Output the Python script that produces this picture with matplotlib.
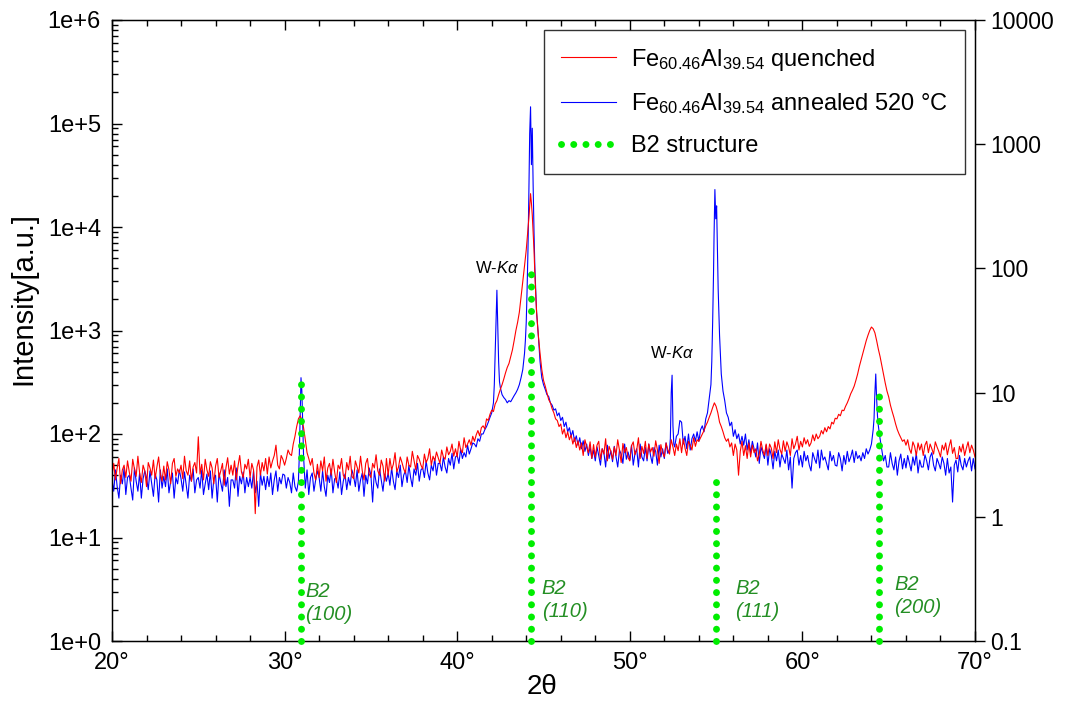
import math

import matplotlib

matplotlib.use("Agg")
import matplotlib.pyplot as plt
from matplotlib.ticker import FixedLocator, FuncFormatter, LogLocator, MultipleLocator, NullFormatter

plt.rcParams["font.family"] = ["Liberation Sans", "DejaVu Sans"]
plt.rcParams["mathtext.fontset"] = "custom"
plt.rcParams["mathtext.rm"] = "Liberation Sans"
plt.rcParams["mathtext.it"] = "Liberation Sans:italic"
plt.rcParams["mathtext.default"] = "regular"

STEP = 0.1  # diffractometer step in the flat background runs (deg 2theta)


def scan(start, counts, step=STEP):
    """(2theta, counts) pairs for an equally stepped run starting at `start`."""
    return [(round(start + i * step, 2), c) for i, c in enumerate(counts)]


# ---- Fe60.46Al39.54 quenched -------------------------------------------------
q_bg_20 = [
    40, 52, 36, 47, 58, 33, 45, 50, 38, 55,
    43, 35, 57, 46, 39, 61, 42, 34, 50, 44,
    31, 53, 47, 40, 56, 37, 48, 60, 41, 35,
    49, 36, 54, 45, 33, 52, 58, 39, 46, 42,
    50, 37, 61, 44, 40, 55, 35, 48, 53, 42,
    94, 41, 51, 36, 57, 45, 39, 54, 47, 33,
    49, 58, 38, 44, 52, 32, 47, 59, 41, 50,
    40, 55, 36, 49, 62, 43, 38, 51, 46, 57,
    38, 52, 45, 17, 48, 56, 40, 53, 44, 58,
    41, 60, 47, 55, 62, 78, 50, 46, 62, 57,
    50, 58, 70, 64, 62,
]
q_100 = [(30.5, 80), (30.6, 95), (30.7, 118), (30.8, 140), (30.9, 150), (31.0, 138),
         (31.1, 115), (31.2, 88), (31.3, 66), (31.4, 58), (31.5, 50)]
q_bg_31 = [
    58, 42, 36, 51,
    38, 55, 44, 60, 35, 47, 52, 40, 57, 43,
    34, 50, 46, 58, 40, 37, 53, 45, 61, 39,
    37, 55, 48, 42, 61, 44, 36, 52, 58, 41,
    38, 52, 47, 63, 44, 40, 56, 49, 35, 58,
    40, 58, 45, 51, 66, 43, 48, 60, 53, 46,
    42, 60, 50, 48, 68, 55, 45, 62, 57, 50,
    46, 64, 53, 58, 72, 50, 61, 55, 67, 59,
    52, 70, 60, 57, 75, 63, 68, 80, 61, 72,
    60, 85, 70, 66, 92, 74, 80, 88, 78, 95,
    85,
]
q_110 = [
    (41.1, 98), (41.2, 108), (41.3, 96), (41.4, 115), (41.5, 120), (41.6, 112), (41.7, 140),
    (41.8, 135), (41.9, 155), (42.0, 170), (42.1, 165), (42.2, 195), (42.3, 210), (42.4, 240),
    (42.5, 270), (42.6, 300), (42.7, 340), (42.8, 390), (42.9, 440), (43.0, 480), (43.1, 560),
    (43.2, 650), (43.3, 800), (43.4, 1000), (43.5, 1200), (43.6, 1500), (43.7, 2100), (43.8, 3000),
    (43.9, 4200), (44.0, 6000), (44.1, 9500), (44.15, 12000), (44.2, 16000), (44.25, 21000),
    (44.3, 17000), (44.35, 13000), (44.4, 9000), (44.45, 6000), (44.5, 3500), (44.55, 2200),
    (44.6, 1500), (44.7, 900), (44.8, 600), (44.9, 420), (45.0, 330), (45.1, 290), (45.2, 250),
    (45.3, 215), (45.4, 200), (45.5, 175), (45.6, 160), (45.7, 140), (45.8, 135), (45.9, 118),
    (46.0, 125), (46.1, 100), (46.2, 112), (46.3, 92), (46.4, 105), (46.5, 88), (46.6, 98),
    (46.7, 80), (46.8, 92), (46.9, 74), (47.0, 86),
]
q_bg_47 = [
    70, 82, 62, 88, 75, 66, 84, 58, 79,
    60, 78, 85, 57, 72, 64, 90, 55, 76, 68,
    57, 75, 62, 88, 70, 53, 81, 66, 74, 59,
    55, 77, 84, 63, 70, 92, 58, 76, 65, 85,
    58, 80, 67, 74, 61, 86, 70, 52, 79, 66,
    60, 82, 71, 64, 88, 75, 62, 80, 69, 90,
    66, 90, 73, 62, 85, 78, 70, 92, 76, 88,
    85,
]
q_111 = [
    (54.1, 92), (54.2, 100), (54.3, 108), (54.4, 120), (54.5, 130), (54.6, 145), (54.7, 160),
    (54.8, 180), (54.9, 200), (55.0, 185), (55.1, 160), (55.2, 130), (55.3, 118), (55.4, 105),
    (55.5, 92), (55.6, 85), (55.7, 90), (55.8, 75), (55.9, 82), (56.0, 62),
]
q_bg_56 = [
    80, 70, 40, 68, 85, 62, 77, 58, 82,
    60, 78, 66, 72, 55, 64, 85, 70, 62, 80,
    62, 80, 73, 58, 84, 66, 88, 71, 64, 86,
    68, 84, 75, 62, 90, 72, 80, 95, 70, 85,
    75, 92, 80, 88, 76, 82, 98, 86, 100, 90,
]
q_200 = [
    (61.0, 95), (61.1, 108), (61.2, 100), (61.3, 115), (61.4, 105), (61.5, 118), (61.6, 112),
    (61.7, 130), (61.8, 125), (61.9, 142), (62.0, 140), (62.1, 155), (62.2, 150), (62.3, 170),
    (62.4, 168), (62.5, 185), (62.6, 200), (62.7, 220), (62.8, 245), (62.9, 265), (63.0, 290),
    (63.1, 330), (63.2, 380), (63.3, 450), (63.4, 520), (63.5, 600), (63.6, 700), (63.7, 800),
    (63.8, 900), (63.9, 1000), (64.0, 1080), (64.1, 1040), (64.2, 950), (64.3, 800), (64.4, 660),
    (64.5, 560), (64.6, 460), (64.7, 380), (64.8, 310), (64.9, 260), (65.0, 228), (65.1, 190),
    (65.2, 165), (65.3, 145), (65.4, 125), (65.5, 110), (65.6, 100), (65.7, 92), (65.8, 85),
    (65.9, 88), (66.0, 78),
]
q_bg_66 = [
    88, 72, 65, 84, 76, 62, 82, 70, 80,
    62, 78, 85, 66, 80, 72, 64, 84, 75, 68,
    60, 78, 70, 82, 63, 76, 88, 65, 74, 58,
    58, 76, 67, 80, 62, 73, 84, 66, 78, 70,
    60,
]

# ---- Fe60.46Al39.54 annealed 520 C ----------------------------------------
a_bg_20 = [
    36, 28, 45, 31, 24, 40, 33, 47, 26, 38,
    40, 30, 23, 47, 35, 28, 42, 24, 37, 44,
    38, 29, 44, 33, 25, 41, 36, 22, 45, 30,
    39, 31, 46, 27, 35, 42, 24, 38, 33, 45,
    37, 28, 43, 32, 24, 40, 35, 46, 27, 36,
    38, 30, 45, 26, 33, 41, 29, 44, 24, 37,
    40, 22, 42, 34, 28, 45, 31, 38, 20, 36,
    36, 30, 47, 25, 39, 33, 43, 27, 38, 31,
    38, 30, 44, 27, 35, 20, 42, 32, 39, 29,
    39, 31, 42, 26, 36, 44, 28, 38, 33, 41,
    40, 30, 38, 34, 27, 42, 31, 28, 35,
]
a_100 = [(30.85, 60), (30.9, 150), (30.95, 350), (31.0, 260), (31.05, 120), (31.1, 60), (31.15, 42)]
a_bg_31 = [
    30, 45, 26, 38, 42, 28, 36, 44,
    38, 28, 44, 31, 25, 40, 34, 46, 27, 37,
    37, 30, 43, 26, 35, 41, 29, 38, 32, 45,
    39, 31, 45, 28, 36, 42, 25, 40, 33, 47,
    40, 22, 44, 34, 30, 46, 36, 28, 41, 35,
    42, 32, 47, 35, 29, 44, 38, 50, 31, 40,
    44, 34, 50, 38, 31, 46, 40, 52, 35, 45,
    47, 38, 55, 42, 36, 50, 44, 58, 40, 52,
    52, 44, 60, 48, 42, 58, 50, 65, 46, 60,
    62, 52, 72, 58, 66, 60, 78, 64, 72, 82,
    80, 75, 90, 85, 100,
]
a_110 = [
    (41.5, 100), (41.6, 110), (41.7, 118), (41.8, 130), (41.9, 145), (42.0, 160), (42.1, 200),
    (42.15, 300), (42.2, 600), (42.25, 1300), (42.3, 2450), (42.35, 1100), (42.4, 500), (42.45, 320),
    (42.5, 280), (42.6, 240), (42.7, 225), (42.8, 215), (42.9, 200), (43.0, 210), (43.1, 205),
    (43.2, 220), (43.3, 235), (43.4, 250), (43.5, 270), (43.6, 300), (43.7, 350), (43.8, 420),
    (43.9, 600), (43.95, 800), (44.0, 1200), (44.05, 2500), (44.1, 6000), (44.15, 20000),
    (44.2, 80000), (44.25, 145000), (44.3, 40000), (44.35, 90000), (44.4, 25000), (44.45, 9000),
    (44.5, 4000), (44.55, 2400), (44.6, 1500), (44.7, 900), (44.8, 500), (44.9, 350), (45.0, 300),
    (45.1, 270), (45.2, 240), (45.3, 230), (45.4, 200), (45.5, 190), (45.6, 170), (45.7, 175),
    (45.8, 150), (45.9, 160), (46.0, 135), (46.1, 145), (46.2, 118), (46.3, 130), (46.4, 105),
    (46.5, 115), (46.6, 95), (46.7, 108), (46.8, 85), (46.9, 96), (47.0, 78), (47.1, 92),
    (47.2, 72), (47.3, 86), (47.4, 68),
]
a_bg_47 = [
    80, 62, 75, 58, 70,
    55, 75, 62, 50, 72, 66, 48, 78, 58, 69,
    54, 76, 60, 48, 70, 64, 52, 80, 57, 67,
    56, 78, 50, 65, 72, 48, 80, 60, 55, 74,
    55, 80, 62, 52, 74, 68, 50, 78, 60, 72,
    58, 82, 65, 70,
]
a_wka_52 = [(52.35, 90), (52.4, 250), (52.45, 370), (52.5, 120), (52.55, 80)]
a_bg_52 = [
    75, 95, 100, 135,
    130, 80, 95, 72, 100, 70, 90, 100, 85, 105,
    85, 110, 120, 105, 140,
]
a_111 = [
    (54.5, 160), (54.6, 220), (54.7, 300), (54.75, 500), (54.8, 1200), (54.85, 3500), (54.88, 8000),
    (54.93, 23000), (54.98, 12000), (55.03, 16000), (55.08, 6000), (55.12, 2500), (55.2, 900),
    (55.3, 380), (55.4, 260), (55.5, 210), (55.6, 160), (55.7, 145), (55.8, 120), (55.9, 130),
    (56.0, 95),
]
a_bg_56 = [
    110, 90, 100, 80, 95, 78, 100, 70, 88,
    65, 85, 72, 60, 82, 52, 75, 66, 58, 78,
    50, 72, 62, 46, 68, 55, 70, 48, 64, 58,
    52, 70, 45, 60, 30, 58, 66, 70, 50, 62,
    48, 68, 55, 62, 50, 44, 66, 58, 52, 70,
    47, 70, 56, 60, 52, 45, 68, 55, 62, 50,
    49, 66, 58, 44, 62, 51, 68, 54, 60, 70,
    53, 68, 58, 62, 55, 66, 58, 72, 64, 70,
    80, 110,
]
a_200 = [(64.15, 140), (64.2, 250), (64.25, 380), (64.3, 220), (64.35, 150), (64.4, 120),
         (64.5, 90), (64.6, 70)]
a_bg_64 = [
    55, 62, 48,
    48, 66, 52, 45, 60, 40, 55, 64, 46, 58,
    47, 62, 52, 44, 60, 50, 65, 42, 56, 48,
    48, 63, 55, 45, 60, 66, 50, 44, 58, 52,
    46, 60, 52, 40, 58, 42, 48, 22, 50, 56,
    43, 62, 50, 45, 58, 48, 55, 60, 44, 58,
    46,
]

quenched = (scan(20.0, q_bg_20) + q_100 + scan(31.6, q_bg_31) + q_110 + scan(47.1, q_bg_47)
            + q_111 + scan(56.1, q_bg_56) + q_200 + scan(66.1, q_bg_66))
annealed = (scan(20.0, a_bg_20) + a_100 + scan(31.2, a_bg_31) + a_110 + scan(47.5, a_bg_47)
            + a_wka_52 + scan(52.6, a_bg_52) + a_111 + scan(56.1, a_bg_56) + a_200
            + scan(64.7, a_bg_64))

# B2 reference reflections (right axis)
b2_hkl = ["(100)", "(110)", "(111)", "(200)"]
b2_pos = [30.95, 44.30, 55.00, 64.45]
b2_int = [12.0, 100.0, 2.0, 9.5]

# tungsten K-alpha contamination lines
wka_pos = [42.30, 52.45]
wka_counts = [2450, 370]

fig = plt.figure(figsize=(10.73, 7.17), dpi=100)
ax = fig.add_axes([112 / 1073, 76 / 717, 863 / 1073, 621 / 717])

qx, qy = zip(*quenched)
anx, any_ = zip(*annealed)
ax.plot(anx, any_, color="#0000ff", lw=0.8, label=r"Fe$_{60.46}$Al$_{39.54}$ annealed 520 °C", zorder=2)
ax.plot(qx, qy, color="#ff0000", lw=0.8, label=r"Fe$_{60.46}$Al$_{39.54}$ quenched", zorder=3)

ax.set_xlim(20, 70)
ax.set_yscale("log")
ax.set_ylim(1, 1e6)
ax.xaxis.set_major_locator(MultipleLocator(10))
ax.xaxis.set_minor_locator(MultipleLocator(2))
ax.xaxis.set_major_formatter(FuncFormatter(lambda v, p: f"{v:.0f}°"))
ax.yaxis.set_major_locator(FixedLocator([1, 10, 100, 1e3, 1e4, 1e5, 1e6]))
ax.yaxis.set_minor_locator(LogLocator(base=10, subs=range(2, 10)))
ax.yaxis.set_minor_formatter(NullFormatter())
ax.yaxis.set_major_formatter(FuncFormatter(lambda v, p: f"1e+{int(round(math.log10(v)))}"))
ax.tick_params(axis="x", which="major", direction="in", length=7, width=1, top=True, labelsize=17, pad=8)
ax.tick_params(axis="x", which="minor", direction="in", length=4.5, width=1, top=True)
ax.tick_params(axis="y", which="major", direction="in", length=7, width=1, labelsize=17, pad=8)
ax.tick_params(axis="y", which="minor", direction="in", length=4.5, width=1)
for s in ax.spines.values():
    s.set_linewidth(1.0)
ax.set_xlabel("2θ", fontsize=20)
ax.xaxis.set_label_coords(0.498, -0.053)
ax.set_ylabel("Intensity[a.u.]", fontsize=21)
ax.yaxis.set_label_coords(-0.087, 0.552)

for x, c in zip(wka_pos, wka_counts):
    ax.annotate(r"W-$\mathit{K\alpha}$", xy=(x, c), xytext=(0, 10), textcoords="offset points",
                ha="center", va="bottom", fontsize=12)

ax2 = ax.twinx()
ax2.set_yscale("log")
ax2.set_ylim(0.1, 1e4)
ax2.yaxis.set_major_locator(FixedLocator([0.1, 1, 10, 100, 1e3, 1e4]))
ax2.yaxis.set_minor_locator(FixedLocator([]))
ax2.yaxis.set_major_formatter(FuncFormatter(lambda v, p: f"{v:g}"))
ax2.tick_params(axis="y", which="major", direction="out", length=7, width=1, labelsize=16.5, pad=4)

b2_line = None
for x, h in zip(b2_pos, b2_int):
    (b2_line,) = ax2.plot([x, x], [0.1, h], color="#00ee00", lw=5, linestyle=(0, (0.01, 1.75)),
                          dash_capstyle="round", clip_on=False, zorder=4)
b2_line.set_label("B2 structure")

label_dx = [0.25, 0.6, 1.1, 0.85]
label_y = [0.061, 0.066, 0.066, 0.073]
for x, dx, y, hkl in zip(b2_pos, label_dx, label_y, b2_hkl):
    ax2.text(x + dx, y, f"B2\n{hkl}", transform=ax2.get_xaxis_transform(), ha="left", va="center",
             fontsize=14.5, style="italic", color="#248f24", linespacing=1.25)

h1, l1 = ax.get_legend_handles_labels()
handles = [h1[1], h1[0], b2_line]
labels = [l1[1], l1[0], "B2 structure"]
leg = ax2.legend(handles, labels, loc="upper right", bbox_to_anchor=(965 / 1073, 687 / 717),
                 bbox_transform=fig.transFigure, borderaxespad=0, fontsize=17, frameon=True,
                 fancybox=False, edgecolor="black", handlelength=2.35, handletextpad=0.65,
                 labelspacing=0.8, borderpad=0.7)
leg.get_frame().set_linewidth(1.0)

fig.savefig("out.png", dpi=100)
